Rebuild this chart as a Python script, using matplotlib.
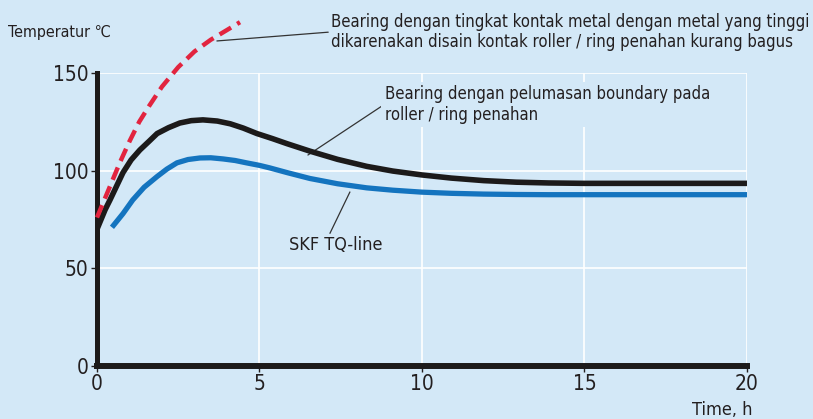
import numpy as np
import matplotlib
matplotlib.use("Agg")
import matplotlib.pyplot as plt

# data
red_x = [0, 0.15, 0.3, 0.5, 0.7, 1.0, 1.3, 1.6, 2.0, 2.5, 3.0, 3.5, 4.0, 4.4]
red_y = [76, 82, 88, 96, 104, 115, 125, 133, 143, 153, 161, 167, 172, 176]

black_x = [0, 0.1, 0.25, 0.4, 0.6, 0.8, 1.05, 1.32, 1.6, 1.85, 2.2, 2.55, 2.9, 3.26, 3.7, 4.1,
           4.5, 4.92, 5.4, 5.85, 6.55, 7.4, 8.3, 9.1, 10.0, 10.9, 11.9, 12.9, 13.9, 15, 16, 18, 20]
black_y = [70, 74, 80, 85, 92, 99, 105.5, 110.6, 115, 119, 122, 124.4, 125.6, 126, 125.4, 124,
           121.8, 119, 116.4, 113.8, 110, 105.8, 102.2, 99.8, 97.8, 96.2, 94.9, 94.1, 93.7,
           93.5, 93.5, 93.5, 93.5]

blue_x = [0.46, 0.8, 1.1, 1.45, 1.85, 2.15, 2.46, 2.8, 3.17, 3.5, 3.88, 4.25, 4.6, 5.0, 5.32,
          5.85, 6.55, 7.4, 8.3, 9.1, 10.0, 10.9, 11.9, 12.9, 13.9, 15, 16, 18, 20]
blue_y = [71, 78, 85, 91.5, 97, 100.8, 104, 105.7, 106.5, 106.6, 106, 105.2, 104, 102.7, 101.4,
          99.0, 96.0, 93.3, 91.2, 90.0, 89.0, 88.4, 88, 87.8, 87.7, 87.7, 87.7, 87.7, 87.7]

x_ticks = [0, 5, 10, 15, 20]
y_ticks = [0, 50, 100, 150]

label_red = "Bearing dengan tingkat kontak metal dengan metal yang tinggi\ndikarenakan disain kontak roller / ring penahan kurang bagus"
label_black = "Bearing dengan pelumasan boundary pada\nroller / ring penahan"
label_blue = "SKF TQ-line"

bg = "#d3e8f7"
txt = "#231f20"

plt.rcParams["font.family"] = ["DejaVu Sans"]
plt.rcParams["font.stretch"] = "condensed"

fig = plt.figure(figsize=(8.13, 4.19), dpi=100, facecolor=bg)
ax = fig.add_axes([0.1193, 0.1265, 0.7995, 0.6993])
ax.set_facecolor(bg)

# white grid
for gx in x_ticks[1:]:
    ax.plot([gx, gx], [0, 150], color="white", lw=1.2, zorder=1)
for gy in y_ticks[1:]:
    ax.plot([0, 20], [gy, gy], color="white", lw=1.2, zorder=1)

ax.plot(blue_x, blue_y, color="#1474bf", lw=3.8, solid_capstyle="butt",
        solid_joinstyle="round", zorder=3)
ax.plot(black_x, black_y, color="#1c1a1a", lw=4.0, solid_capstyle="butt",
        solid_joinstyle="round", zorder=4)
ax.plot(red_x, red_y, color="#e2243f", lw=3.2, ls=(0, (3.0, 1.6)), clip_on=False, zorder=5)

ax.set_xlim(0, 20)
ax.set_ylim(0, 150)
ax.set_xticks(x_ticks)
ax.set_yticks(y_ticks)
ax.tick_params(axis="both", length=4, width=1, color=txt, labelcolor=txt, labelsize=15, pad=2)
for s in ["top", "right"]:
    ax.spines[s].set_visible(False)
ax.spines["left"].set_linewidth(3.6)
ax.spines["bottom"].set_linewidth(4.3)
ax.spines["left"].set_color("#1c1a1a")
ax.spines["bottom"].set_color("#1c1a1a")

# annotations with leader lines
ax.annotate(label_red, xy=(3.69, 166.4), xytext=(7.2, 171), xycoords="data", textcoords="data",
            fontsize=12, color=txt, va="center", ha="left", annotation_clip=False,
            arrowprops=dict(arrowstyle="-", color="#333333", lw=0.9, shrinkA=0, shrinkB=0,
                            relpos=(0, 0.5)))
ax.annotate(label_black, xy=(6.49, 108), xytext=(8.85, 134), xycoords="data", textcoords="data",
            fontsize=12, color=txt, va="center", ha="left", annotation_clip=False,
            bbox=dict(boxstyle="square,pad=0.2", fc=bg, ec="none"),
            arrowprops=dict(arrowstyle="-", color="#333333", lw=0.9, shrinkA=0, shrinkB=0,
                            relpos=(0, 0.5)))
ax.plot([7.78, 7.17], [89, 68], color="#333333", lw=0.9, zorder=2)
ax.text(7.36, 62, label_blue, fontsize=13, color=txt, ha="center", va="center")

fig.text(8 / 813, 1 - 33 / 419, "Temperatur \u2103", fontsize=11.5, color=txt, va="center", ha="left")
fig.text(752 / 813, 1 - 410 / 419, "Time, h", fontsize=13, color=txt, va="center", ha="right")

fig.savefig("out.png", dpi=100, facecolor=bg)
